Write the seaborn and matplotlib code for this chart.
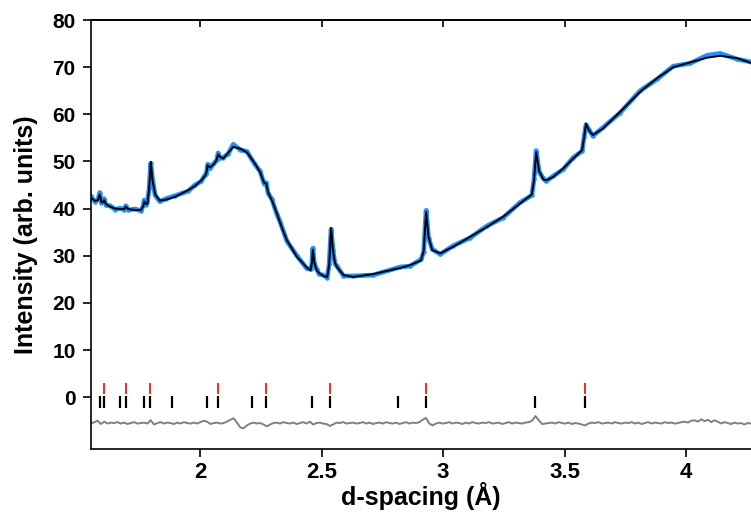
import seaborn as sns
import matplotlib.pyplot as plt
import pandas as pd
import numpy as np

# d-spacing grid (Angstrom), with extra points around peaks
d_spacing = [1.551, 1.568, 1.580, 1.587, 1.594, 1.600, 1.605, 1.613, 1.630, 1.650,
             1.671, 1.688, 1.694, 1.704, 1.733, 1.757, 1.766, 1.770, 1.776, 1.783,
             1.790, 1.797, 1.804, 1.815, 1.834, 1.860, 1.896, 1.951, 1.979, 2.005,
             2.021, 2.026, 2.031, 2.041, 2.058, 2.068, 2.074, 2.082, 2.095, 2.115,
             2.136, 2.165, 2.193, 2.225, 2.247, 2.263, 2.272, 2.280, 2.295, 2.316,
             2.329, 2.357, 2.398, 2.439, 2.455, 2.460, 2.464, 2.470, 2.479, 2.490,
             2.507, 2.523, 2.531, 2.539, 2.547, 2.555, 2.563, 2.590, 2.630, 2.712,
             2.823, 2.864, 2.909, 2.920, 2.930, 2.940, 2.955, 2.988, 3.041, 3.111,
             3.180, 3.248, 3.317, 3.365, 3.374, 3.383, 3.395, 3.412, 3.424, 3.453,
             3.494, 3.535, 3.572, 3.580, 3.588, 3.601, 3.616, 3.658, 3.728, 3.811,
             3.879, 3.947, 4.016, 4.086, 4.140, 4.210, 4.267]

# calculated profile (black line)
calc = [42.3, 41.6, 41.8, 43.0, 41.4, 41.3, 41.8, 40.9, 40.4, 40.0,
        39.9, 39.9, 40.4, 39.9, 39.7, 39.7, 40.5, 41.5, 41.0, 41.0,
        44.0, 49.9, 46.0, 43.0, 41.7, 41.9, 42.5, 43.9, 44.8, 46.0,
        47.0, 47.6, 49.2, 48.7, 49.5, 50.4, 51.5, 51.0, 50.6, 51.8,
        53.1, 52.7, 51.9, 49.6, 47.7, 45.5, 45.3, 43.4, 41.8, 39.0,
        37.0, 33.3, 29.8, 27.5, 26.9, 28.5, 31.3, 28.6, 27.0, 26.3,
        25.7, 25.5, 28.0, 35.9, 31.0, 28.5, 27.6, 25.9, 25.5, 26.1,
        27.4, 28.0, 29.0, 31.0, 39.3, 34.0, 31.2, 30.5, 31.9, 34.0,
        36.1, 38.3, 41.1, 43.0, 46.0, 52.0, 48.0, 46.2, 46.0, 46.7,
        48.5, 50.6, 52.4, 55.0, 58.0, 56.5, 55.6, 57.0, 60.5, 64.8,
        67.6, 70.0, 71.0, 72.0, 72.4, 71.9, 70.9]

# observed data (blue)
obs = [42.6, 41.4, 42.0, 43.4, 41.2, 41.6, 42.1, 40.7, 40.6, 39.8,
       40.1, 39.7, 40.6, 39.7, 39.9, 39.5, 40.7, 41.8, 40.8, 41.3,
       44.2, 49.6, 46.3, 42.8, 41.5, 42.1, 42.7, 43.7, 45.0, 45.8,
       47.2, 47.4, 49.4, 48.5, 49.7, 50.2, 51.8, 50.8, 50.8, 51.6,
       53.6, 52.5, 52.1, 49.4, 47.9, 45.3, 45.5, 43.2, 42.0, 38.8,
       37.2, 33.1, 30.0, 27.3, 27.1, 28.3, 31.6, 28.4, 27.2, 26.1,
       25.9, 25.3, 28.2, 35.6, 31.2, 28.3, 27.8, 25.7, 25.7, 25.9,
       27.6, 27.8, 29.2, 30.8, 39.6, 33.8, 31.4, 30.3, 32.1, 33.8,
       36.3, 38.1, 41.3, 42.8, 46.2, 52.3, 47.8, 46.4, 45.8, 46.9,
       48.3, 50.8, 52.2, 55.2, 57.8, 56.7, 55.4, 57.2, 60.3, 65.0,
       67.4, 70.2, 70.8, 72.5, 72.9, 71.7, 71.1]

# difference curve (offset), evenly sampled across the range
resid = [-5.6, -5.3, -5.0, -5.7, -5.2, -5.6, -5.4, -5.5, -5.3, -5.6, -5.4, -5.7, -5.5, -5.3, -5.6, -5.5, -5.4, -5.6, -4.9, -5.8,
         -5.5, -5.3, -5.6, -5.4, -5.5, -5.7, -5.4, -5.6, -5.3, -5.5, -5.6, -5.4, -5.6, -5.3, -5.0, -5.2, -5.7, -5.5, -5.4, -5.6,
         -5.5, -5.2, -4.8, -4.5, -5.4, -6.4, -6.6, -6.0, -5.6, -5.4, -5.6, -5.5, -5.8, -6.2, -5.8, -5.5, -5.4, -5.6, -5.3, -5.5,
         -5.6, -5.4, -5.7, -5.5, -5.3, -5.6, -5.2, -5.8, -5.5, -5.4, -5.6, -5.7, -6.1, -5.8, -5.4, -5.5, -5.3, -5.6, -5.5, -5.4,
         -5.6, -5.5, -5.3, -5.6, -5.4, -5.7, -5.5, -5.4, -5.6, -5.3, -5.5, -5.6, -5.4, -5.7, -5.5, -5.3, -5.6, -5.4, -5.5, -5.3,
         -4.8, -4.4, -5.6, -6.0, -5.6, -5.4, -5.6, -5.5, -5.3, -5.6, -5.4, -5.5, -5.7, -5.4, -5.6, -5.3, -5.5, -5.6, -5.4, -5.5,
         -5.3, -5.6, -5.5, -5.4, -5.7, -5.5, -5.3, -5.6, -5.4, -5.5, -5.6, -5.4, -5.3, -5.0, -4.0, -4.9, -5.7, -5.6, -5.5, -5.4,
         -5.6, -5.3, -5.5, -5.6, -5.4, -5.7, -5.5, -5.6, -5.8, -6.0, -5.6, -5.4, -5.5, -5.3, -5.6, -5.5, -5.4, -5.6, -5.3, -5.5,
         -5.6, -5.4, -5.5, -5.3, -5.6, -5.4, -5.7, -5.5, -5.3, -5.6, -5.4, -5.5, -5.6, -5.3, -5.5, -5.4, -5.6, -5.5, -5.3, -5.2,
         -5.4, -5.0, -4.9, -5.2, -4.7, -5.1, -4.8, -5.3, -4.9, -5.2, -5.6, -5.3, -5.5, -5.7, -5.4, -5.6, -5.5, -5.8, -5.5, -5.6]

# reflection markers
red_ticks = [1.605, 1.693, 1.795, 2.073, 2.270, 2.536, 2.929, 3.584]
black_ticks = [1.586, 1.606, 1.671, 1.693, 1.768, 1.795, 1.885, 2.029, 2.073,
               2.214, 2.270, 2.461, 2.536, 2.814, 2.929, 3.380, 3.584]

x_ticks = [2, 2.5, 3, 3.5, 4]
x_ticklabels = ['2', '2.5', '3', '3.5', '4']
y_ticks = [0, 10, 20, 30, 40, 50, 60, 70, 80]

df = pd.DataFrame({'d': d_spacing, 'obs': obs, 'calc': calc})
res_df = pd.DataFrame({'d': np.linspace(d_spacing[0], d_spacing[-1], len(resid)),
                       'diff': resid})

sns.set_style('ticks')
plt.rcParams['font.family'] = ['Liberation Sans', 'DejaVu Sans']
plt.rcParams['font.weight'] = 'bold'
for key in ['text.color', 'axes.labelcolor', 'xtick.color', 'ytick.color', 'axes.edgecolor']:
    plt.rcParams[key] = 'black'

fig = plt.figure(figsize=(7.51, 5.13), dpi=100)
ax = fig.add_axes([91 / 751, 1 - 449 / 513, 1 - 91 / 751, 429 / 513])

# observed points drawn as a blue band with dots, fit on top
sns.lineplot(data=df, x='d', y='obs', color='#1E90FF', lw=3.4, ax=ax)
sns.scatterplot(data=df, x='d', y='obs', color='#1E90FF', s=10, linewidth=0, ax=ax)
sns.lineplot(data=df, x='d', y='calc', color='black', lw=1.4, ax=ax)
sns.lineplot(data=res_df, x='d', y='diff', color='#808080', lw=1.4, ax=ax)

ax.vlines(red_ticks, 0.6, 3.0, color='red', lw=1.2)
ax.vlines(black_ticks, -2.2, 0.2, color='black', lw=1.6)

ax.set_xlim(1.551, 4.267)
ax.set_ylim(-11, 80)
ax.set_xticks(x_ticks)
ax.set_xticklabels(x_ticklabels)
ax.set_yticks(y_ticks)

ax.spines['right'].set_visible(False)
for s in ['left', 'bottom', 'top']:
    ax.spines[s].set_linewidth(1.2)
    ax.spines[s].set_color('black')

ax.tick_params(axis='y', direction='out', length=6, width=1.2, labelsize=15, pad=5)
ax.tick_params(axis='x', direction='out', length=6, width=1.2, labelsize=16, pad=3)

# mirrored top axis with inward ticks only
top = ax.secondary_xaxis('top')
top.set_xticks(x_ticks)
top.tick_params(direction='in', length=5, width=1.2, labeltop=False)
top.spines['top'].set_linewidth(1.2)

ax.set_xlabel('d-spacing (Å)', fontsize=18, fontweight='bold', labelpad=0)
ax.set_ylabel('Intensity (arb. units)', fontsize=18, fontweight='bold', labelpad=10)

fig.savefig('out.png', dpi=100)
plt.close(fig)
